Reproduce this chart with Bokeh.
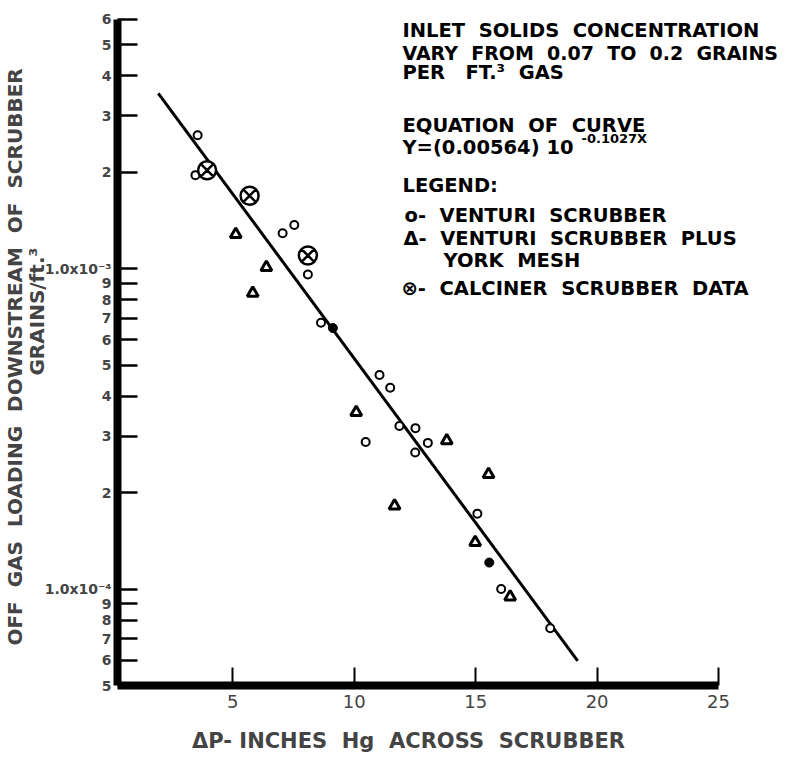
from bokeh.plotting import figure
from bokeh.models import Range1d, FixedTicker, CustomJSTickFormatter, Label
from bokeh.embed import file_html
from bokeh.resources import INLINE

# ---- data ----
venturi_x = [3.55, 3.46, 7.53, 7.05, 8.09, 8.63, 11.04, 11.48, 11.86, 12.52, 10.47, 13.03, 12.51, 15.07, 16.05, 18.07]
venturi_y = [2.61e-3, 1.96e-3, 1.37e-3, 1.29e-3, 9.6e-4, 6.78e-4, 4.66e-4, 4.25e-4, 3.23e-4, 3.18e-4, 2.88e-4, 2.86e-4, 2.67e-4, 1.72e-4, 1.00e-4, 7.55e-5]
mesh_x = [5.12, 6.38, 5.82, 10.08, 13.81, 15.53, 11.66, 14.98, 16.42]
mesh_y = [1.28e-3, 1.01e-3, 8.4e-4, 3.56e-4, 2.91e-4, 2.28e-4, 1.82e-4, 1.40e-4, 9.46e-5]
calciner_x = [3.94, 5.69, 8.09]
calciner_y = [2.03e-3, 1.69e-3, 1.10e-3]
dot_x = [9.12, 15.56]
dot_y = [6.53e-4, 1.21e-4]
curve_x = [1.93, 19.2]
curve_y = [3.53e-3, 5.97e-5]

x_ticks = [5, 10, 15, 20, 25]
y_ticks = [5e-5, 6e-5, 7e-5, 8e-5, 9e-5,
           1e-4, 2e-4, 3e-4, 4e-4, 5e-4, 6e-4, 7e-4, 8e-4, 9e-4,
           1e-3, 2e-3, 3e-3, 4e-3, 5e-3, 6e-3]
y_tick_labels = ["5", "6", "7", "8", "9",
                 "1.0x10\u207b\u2074", "2", "3", "4", "5", "6", "7", "8", "9",
                 "1.0x10\u207b\u00b3", "2", "3", "4", "5", "6"]

FONT = "DejaVu Sans"
NB = "\u00a0"
FW, FH = 794, 762
L, B = 117, 77

# axis drawn over x 0.25..25 and y 5e-5..6e-3; frame extended so notes are not clipped
p = figure(width=FW, height=FH, y_axis_type="log",
           x_range=Range1d(0.25, 28.13), y_range=Range1d(5e-5, 6.878e-3),
           output_backend="svg", toolbar_location=None,
           min_border_left=L, min_border_right=0, min_border_top=0, min_border_bottom=B)
p.outline_line_color = None
p.grid.visible = False
p.background_fill_color = "white"
p.border_fill_color = "white"

# x axis
xa = p.xaxis[0]
xa.bounds = (0.25, 25)
xa.ticker = FixedTicker(ticks=x_ticks)
xa.axis_line_width = 8
xa.axis_line_color = "black"
xa.major_tick_in = 18
xa.major_tick_out = 0
xa.major_tick_line_width = 2
xa.minor_tick_line_color = None
xa.major_label_text_font = FONT
xa.major_label_text_font_size = "18px"
xa.major_label_standoff = 9
xa.axis_label = ("\u0394P-" + NB + "INCHES" + NB * 2 + "Hg" + NB * 2 + "ACROSS" + NB * 2 + "SCRUBBER" + NB * 13)
xa.axis_label_text_font = FONT
xa.axis_label_text_font_style = "bold"
xa.axis_label_text_font_size = "21px"
xa.axis_label_standoff = 18

# y axis
ya = p.yaxis[0]
ya.bounds = (5e-5, 6e-3)
ya.ticker = FixedTicker(ticks=y_ticks)
ya.formatter = CustomJSTickFormatter(args=dict(vals=y_ticks, labs=y_tick_labels), code="""
let best = 0, bd = 1e9;
for (let i = 0; i < vals.length; i++) {
  const d = Math.abs(Math.log10(vals[i]) - Math.log10(tick));
  if (d < bd) { bd = d; best = i; }
}
return labs[best];
""")
ya.axis_line_width = 8
ya.axis_line_color = "black"
ya.major_tick_in = 20
ya.major_tick_out = 0
ya.major_tick_line_width = 2.5
ya.minor_tick_line_color = None
ya.major_label_text_font = FONT
ya.major_label_text_font_style = "bold"
ya.major_label_text_font_size = "14px"
ya.major_label_standoff = 6
ya.axis_label = ("OFF" + NB * 2 + "GAS" + NB * 2 + "LOADING" + NB * 2 + "DOWNSTREAM" + NB * 2 + "OF" + NB * 2 + "SCRUBBER" + NB * 4
                 + "\n" + NB * 9 + "GRAINS/ft.\u00b3")
ya.axis_label_text_font = FONT
ya.axis_label_text_font_style = "bold"
ya.axis_label_text_font_size = "20px"
ya.axis_label_text_line_height = 0.9
ya.axis_label_standoff = -7

# marks
p.line(curve_x, curve_y, line_width=3, line_color="black")
p.scatter(venturi_x, venturi_y, marker="circle", size=8, line_width=2,
          line_color="black", fill_color="white")
p.scatter(mesh_x, mesh_y, marker="triangle", size=11, line_width=3,
          line_color="black", fill_color="white")
p.scatter(calciner_x, calciner_y, marker="circle_x", size=18, line_width=2.5,
          line_color="black", fill_color="white")
p.scatter(dot_x, dot_y, marker="circle", size=9, line_width=1,
          line_color="black", fill_color="black")

# annotation text (canvas px -> frame-relative screen units)
frame_bottom = FH - B


def note(txt, cx, cy, size="19.5px", style="bold"):
    p.add_layout(Label(x=cx - L, y=frame_bottom - cy, x_units="screen", y_units="screen",
                       text=txt.replace(" ", NB), text_font=FONT, text_font_size=size,
                       text_font_style=style, text_baseline="alphabetic", text_align="left",
                       text_color="black"))


note("INLET  SOLIDS  CONCENTRATION", 402, 30)
note("VARY  FROM  0.07  TO  0.2  GRAINS", 402, 52, size="19px")
note("PER   FT.\u00b3  GAS", 402, 72)
note("EQUATION  OF  CURVE", 402, 125)
note("Y=(0.00564) 10", 402, 147)
note("-0.1027X", 581, 138, size="13px")
note("LEGEND:", 402, 185)
note("o-  VENTURI  SCRUBBER", 404, 215)
note("\u0394-  VENTURI  SCRUBBER  PLUS", 403, 238)
note("YORK  MESH", 443, 260)
note("\u2297-  CALCINER  SCRUBBER  DATA", 401, 288)

open("out.html", "w").write(file_html(p, INLINE))
